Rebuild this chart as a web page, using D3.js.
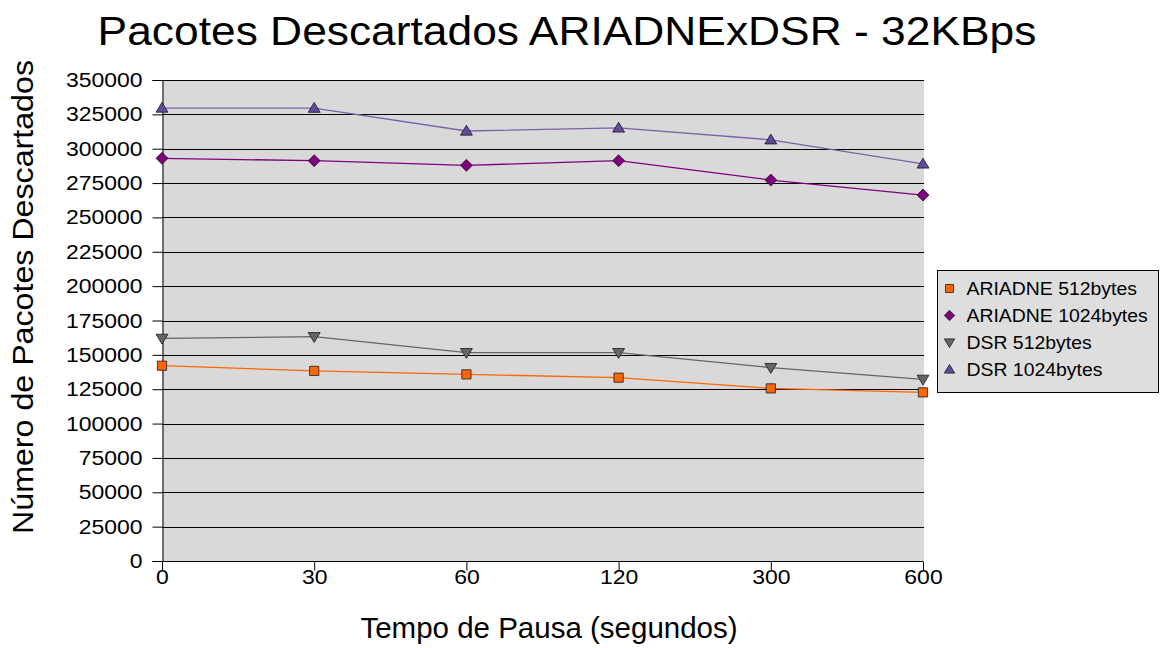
<!DOCTYPE html>
<html>
<head>
<meta charset="utf-8">
<script src="https://cdn.jsdelivr.net/npm/d3@7"></script>
<style>
  html, body { margin: 0; padding: 0; background: #ffffff; }
  svg { display: block; font-family: "Liberation Sans", Arial, sans-serif; }
</style>
</head>
<body>
<svg id="chart" width="1162" height="648"></svg>
<script>
// Pause times (categories on the x axis)
const pauseTimes = ["0", "30", "60", "120", "300", "600"];

// Dropped packets per series
const ariadne512 = [142100, 138300, 135800, 133400, 125600, 122700];
const ariadne1024 = [293000, 291300, 287900, 291300, 277200, 266300];
const dsr512 = [162000, 163200, 151600, 151600, 140700, 132200];
const dsr1024 = [329600, 329500, 312900, 315100, 306500, 288900];

const seriesNames = ["ARIADNE 512bytes", "ARIADNE 1024bytes", "DSR 512bytes", "DSR 1024bytes"];
const yTicks = [0, 25000, 50000, 75000, 100000, 125000, 150000, 175000, 200000,
                225000, 250000, 275000, 300000, 325000, 350000];

const series = [
  { name: seriesNames[0], values: ariadne512, line: "#ff6600", fill: "#ff6600", shape: "square" },
  { name: seriesNames[1], values: ariadne1024, line: "#800080", fill: "#800080", shape: "diamond" },
  { name: seriesNames[2], values: dsr512, line: "#666666", fill: "#666666", shape: "down" },
  { name: seriesNames[3], values: dsr1024, line: "#7a62ab", fill: "#604a9b", shape: "up" }
];

const svg = d3.select("#chart");
const plot = { left: 162, right: 923, top: 80, bottom: 561 };
const tickScale = 1.12; // tick labels are set slightly wide

const x = d3.scalePoint().domain(pauseTimes).range([plot.left, plot.right]).padding(0);
const y = d3.scaleLinear().domain([0, 350000]).range([plot.bottom, plot.top]);

// Plot background
svg.append("rect")
  .attr("x", plot.left).attr("y", plot.top)
  .attr("width", plot.right - plot.left + 1).attr("height", plot.bottom - plot.top)
  .attr("fill", "#d9d9d9");

// Horizontal gridlines
svg.append("g").selectAll("line").data(yTicks.filter(d => d > 0)).join("line")
  .attr("x1", plot.left).attr("x2", plot.right + 1)
  .attr("y1", d => Math.round(y(d)) + 0.5).attr("y2", d => Math.round(y(d)) + 0.5)
  .attr("stroke", "#000000").attr("stroke-width", 1);

// Y axis
const yAxis = svg.append("g")
  .attr("transform", `translate(${plot.left + 0.5},0)`)
  .call(d3.axisLeft(y).tickValues(yTicks).tickSize(10).tickFormat(d3.format("d")));
yAxis.select(".domain").attr("stroke", "#000");
yAxis.selectAll(".tick line").attr("stroke", "#000");
yAxis.selectAll(".tick text")
  .attr("font-size", 20.5).attr("fill", "#000")
  .attr("font-family", "Liberation Sans, Arial, sans-serif")
  .attr("x", -20 / tickScale)
  .attr("transform", `scale(${tickScale},1)`);

// X axis
const xAxis = svg.append("g")
  .attr("transform", `translate(0,${plot.bottom + 0.5})`)
  .call(d3.axisBottom(x).tickSize(9));
xAxis.select(".domain").attr("stroke", "#000").attr("d", `M${plot.left},0H${plot.right}`);
xAxis.selectAll(".tick line").attr("stroke", "#000");
xAxis.selectAll(".tick text")
  .attr("font-size", 20.5).attr("fill", "#000")
  .attr("font-family", "Liberation Sans, Arial, sans-serif")
  .attr("y", 8)
  .attr("transform", `scale(${tickScale},1)`);

// Marker shapes
function markerPath(shape, s) {
  if (shape === "square") return `M${-s},${-s}H${s}V${s}H${-s}Z`;
  if (shape === "diamond") return `M0,${-s * 1.3}L${s * 1.3},0L0,${s * 1.3}L${-s * 1.3},0Z`;
  if (shape === "up") return `M0,${-s * 1.25}L${s * 1.3},${s * 0.9}L${-s * 1.3},${s * 0.9}Z`;
  return `M0,${s * 1.25}L${s * 1.3},${-s * 0.9}L${-s * 1.3},${-s * 0.9}Z`;
}

const line = d3.line().x((d, i) => x(pauseTimes[i])).y(d => y(d));

series.forEach(s => {
  svg.append("path")
    .datum(s.values)
    .attr("d", line)
    .attr("fill", "none")
    .attr("stroke", s.line)
    .attr("stroke-width", 1.3);
});

series.forEach(s => {
  svg.append("g").selectAll("path").data(s.values).join("path")
    .attr("transform", (d, i) => `translate(${x(pauseTimes[i])},${y(d)})`)
    .attr("d", markerPath(s.shape, 4.6))
    .attr("fill", s.fill)
    .attr("stroke", "#1a1a1a")
    .attr("stroke-width", 0.8);
});

// Title
svg.append("g")
  .attr("transform", "translate(567,45) scale(1.095,1)")
  .append("text")
  .attr("text-anchor", "middle")
  .attr("font-size", 40.5)
  .attr("fill", "#000")
  .text("Pacotes Descartados ARIADNExDSR - 32KBps");

// Axis titles
svg.append("g")
  .attr("transform", "translate(33,297) rotate(-90) scale(1.11,1)")
  .append("text")
  .attr("text-anchor", "middle")
  .attr("font-size", 29)
  .attr("fill", "#000")
  .text("Número de Pacotes Descartados");

svg.append("text")
  .attr("x", 549).attr("y", 638)
  .attr("text-anchor", "middle")
  .attr("font-size", 29.5)
  .attr("fill", "#000")
  .text("Tempo de Pausa (segundos)");

// Legend
const legend = svg.append("g").attr("transform", "translate(937.5,270.5)");
legend.append("rect")
  .attr("width", 221).attr("height", 122)
  .attr("fill", "#dedede").attr("stroke", "#000").attr("stroke-width", 1);
const items = legend.selectAll("g").data(series).join("g")
  .attr("transform", (d, i) => `translate(12,${18 + i * 27})`);
items.append("path")
  .attr("d", d => markerPath(d.shape, 4))
  .attr("fill", d => d.fill)
  .attr("stroke", "#1a1a1a")
  .attr("stroke-width", 0.8);
items.append("g")
  .attr("transform", "translate(17,6.5) scale(1.05,1)")
  .append("text")
  .attr("font-size", 18.5)
  .attr("fill", "#000")
  .text(d => d.name);
</script>
</body>
</html>
